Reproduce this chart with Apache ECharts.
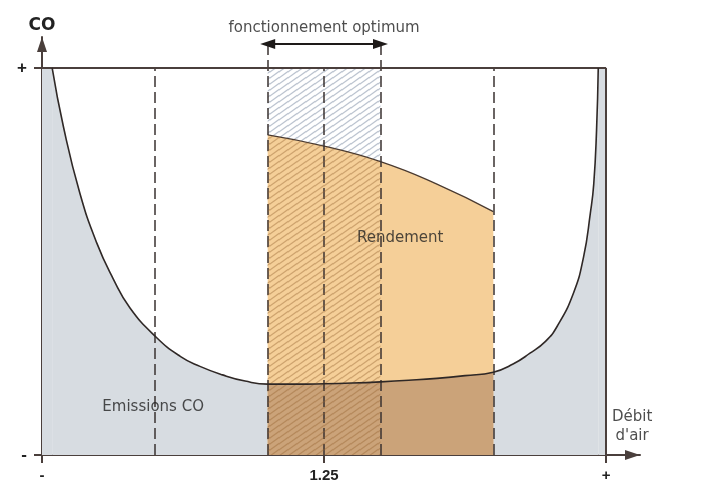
<!DOCTYPE html>
<html lang="fr">
  <head>
    <meta charset="UTF-8">
    <title>Emissions CO / Rendement</title>
    <script src="https://cdn.jsdelivr.net/npm/echarts@6/dist/echarts.min.js"></script>
    <style>
      html, body { margin: 0; padding: 0; background: #fff; }
      #chart { width: 702px; height: 485px; }
    </style>
  </head>
  <body>
    <div id="chart"></div>
    <script>
      // courbe des émissions CO (débit d'air en %, CO en %)
      const coX = [1.8, 3.8, 6.7, 9.7, 12.6, 15.6, 20.2, 24.5, 28, 32, 36, 40, 45, 50, 55, 60, 65, 70, 75, 80, 83.5, 86.5, 89.2, 91.3, 94.2, 96.0, 97.2, 97.8, 98.3, 98.6]
      const coY = [100, 84.8, 67.7, 54.8, 45.6, 38.0, 30.5, 25.5, 22.9, 20.7, 19.1, 18.3, 18.3, 18.4, 18.6, 18.9, 19.3, 19.8, 20.5, 21.4, 23.5, 26.3, 29.3, 33.2, 41.8, 51.2, 62.5, 70.0, 84.0, 100]
      // courbe du rendement
      const rendX = [40, 50, 60, 70, 80]
      const rendY = [82.7, 79.8, 75.8, 70.0, 62.9]
      // repères verticaux
      const dashLow = [20, 50, 80]
      const optimum = [40, 60]
      const arrowY = 106.2
      const xTicks = [0, 50, 100]
      const xTickLabels = ['-', '1.25', '+']
      const yTicks = [0, 100]
      const yTickLabels = ['-', '+']
      const notes = [
        { name: 'Rendement', value: [63.5, 56.1] },
        { name: 'Emissions CO', value: [19.7, 12.4] },
        { name: 'Débit\nd\'air', value: [104.6, 7.4] },
        { name: 'fonctionnement optimum', value: [50, 110.3] }
      ]

      const zip = (xs, ys) => xs.map((x, i) => [x, ys[i]])
      const coData = zip(coX, coY)
      const rendData = zip(rendX, rendY)
      const coMid = coData.filter(p => p[0] >= 40 && p[0] <= 80)
      const rendHatch = rendData.filter(p => p[0] <= 60)
      // bandes grises entre l'axe et le départ de la courbe
      const coLeft = [[0, 100], [coX[0], 100]]
      const coRight = [[coX[coX.length - 1], 100], [100, 100]]

      function hatch(color) {
        const c = document.createElement('canvas')
        c.width = 9
        c.height = 6
        const g = c.getContext('2d')
        g.strokeStyle = color
        g.lineWidth = 1.2
        for (let k = -1; k <= 1; k++) {
          g.beginPath()
          g.moveTo(-1, 6 + k * 6 + 2 / 3)
          g.lineTo(10, 6 + k * 6 - 22 / 3)
          g.stroke()
        }
        return { image: c, repeat: 'repeat' }
      }

      const ink = '#4a3f3c'
      const dash = { color: '#3a3230', width: 1.5, type: [11, 5] }
      const font = 'DejaVu Sans'
      const smooth = { smooth: 0.5, symbol: 'none' }

      const chart = echarts.init(document.getElementById('chart'))
      chart.setOption({
        animation: false,
        backgroundColor: '#fff',
        grid: { left: 42, right: 62, top: 37, bottom: 30 },
        xAxis: {
          type: 'value', min: 0, max: 106,
          splitLine: { show: false },
          axisLine: {
            lineStyle: { color: ink, width: 2 },
            symbol: ['none', 'triangle'], symbolSize: [10, 15], symbolOffset: [0, -7.5]
          },
          axisTick: { customValues: xTicks, length: 8, lineStyle: { color: ink, width: 2 } },
          axisLabel: {
            customValues: xTicks, margin: 13, color: '#222', fontFamily: 'Liberation Sans', fontWeight: 'bold', fontSize: 15,
            formatter: v => xTickLabels[xTicks.indexOf(v)]
          }
        },
        yAxis: {
          type: 'value', min: 0, max: 108,
          name: 'CO', nameGap: 3,
          nameTextStyle: { color: '#222', fontFamily: font, fontWeight: 'bold', fontSize: 17 },
          splitLine: { show: false },
          axisLine: {
            lineStyle: { color: ink, width: 2 },
            symbol: ['none', 'triangle'], symbolSize: [10, 15], symbolOffset: [0, -7.5]
          },
          axisTick: { customValues: yTicks, length: 8, lineStyle: { color: ink, width: 2 } },
          axisLabel: {
            customValues: yTicks, margin: 15, color: '#222', fontFamily: 'Liberation Sans', fontWeight: 'bold', fontSize: 17,
            formatter: v => yTickLabels[yTicks.indexOf(v)]
          }
        },
        series: [
          {
            // zone grise sous la courbe CO
            type: 'line', z: 1, data: coData, ...smooth,
            lineStyle: { width: 0 }, areaStyle: { color: '#d7dce1', opacity: 1 }
          },
          {
            type: 'line', z: 1, data: coLeft, symbol: 'none',
            lineStyle: { width: 0 }, areaStyle: { color: '#d7dce1', opacity: 1 }
          },
          {
            type: 'line', z: 1, data: coRight, symbol: 'none',
            lineStyle: { width: 0 }, areaStyle: { color: '#d7dce1', opacity: 1 }
          },
          {
            // hachures sur fond blanc
            type: 'line', z: 2, data: [[40, 100], [60, 100]], symbol: 'none',
            lineStyle: { width: 0 }, areaStyle: { color: hatch('rgba(120,135,160,0.5)'), opacity: 1 }
          },
          {
            // rendement
            type: 'line', z: 3, data: rendData, ...smooth,
            lineStyle: { color: '#4a3a30', width: 1.3 }, areaStyle: { color: '#f5cf98', opacity: 1 }
          },
          {
            type: 'line', z: 4, data: coMid, ...smooth,
            lineStyle: { width: 0 }, areaStyle: { color: '#cba379', opacity: 1 }
          },
          {
            // hachures sur rendement
            type: 'line', z: 5, data: rendHatch, ...smooth,
            lineStyle: { width: 0 }, areaStyle: { color: hatch('rgba(150,100,50,0.42)'), opacity: 1 }
          },
          {
            // courbe CO
            type: 'line', z: 6, data: coData, ...smooth,
            lineStyle: { color: '#2f2826', width: 1.6 }
          },
          {
            type: 'line', z: 7, data: [], clip: false,
            markLine: {
              silent: true, symbol: 'none', label: { show: false },
              data: [
                ...dashLow.map(x => [{ coord: [x, 0], lineStyle: dash }, { coord: [x, 100] }]),
                ...optimum.map(x => [{ coord: [x, 0], lineStyle: dash }, { coord: [x, arrowY] }]),
                [{ coord: [0, 100], lineStyle: { color: ink, width: 2, type: 'solid' } }, { coord: [100, 100] }],
                [{ coord: [100, 0], lineStyle: { color: ink, width: 2, type: 'solid' } }, { coord: [100, 100] }]
              ]
            }
          },
          {
            type: 'line', z: 8, data: [], clip: false,
            markLine: {
              silent: true, symbol: ['triangle', 'triangle'], symbolSize: [10, 15], label: { show: false },
              lineStyle: { color: '#1e1a19', width: 2, type: 'solid' },
              data: [[{ coord: [optimum[0], arrowY] }, { coord: [optimum[1], arrowY] }]]
            }
          },
          {
            type: 'scatter', z: 9, data: notes, symbolSize: 0, clip: false, silent: true,
            label: {
              show: true, position: 'inside', formatter: '{b}', color: '#222',
              fontFamily: font, fontSize: 15, lineHeight: 19
            }
          }
        ]
      })
    </script>
  </body>
</html>
